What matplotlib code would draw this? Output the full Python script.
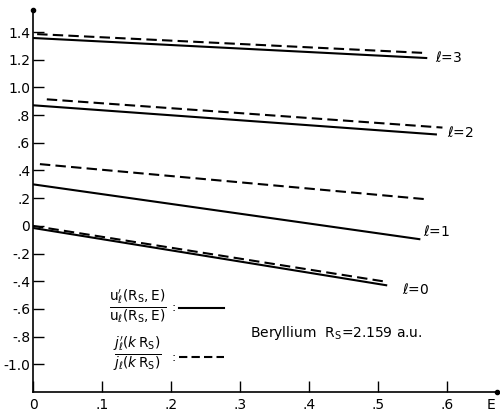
import matplotlib
matplotlib.use("Agg")
import matplotlib.pyplot as plt

# Data (straight lines: endpoints)
ells = ["0", "1", "2", "3"]
solid_x0 = [0.0, 0.0, 0.0, 0.0]
solid_x1 = [0.513, 0.561, 0.585, 0.571]
solid_y0 = [-0.015, 0.30, 0.871, 1.357]
solid_y1 = [-0.43, -0.097, 0.66, 1.212]
dash_x0 = [0.0, 0.01, 0.02, 0.006]
dash_x1 = [0.513, 0.568, 0.593, 0.571]
dash_y0 = [0.0, 0.446, 0.914, 1.385]
dash_y1 = [-0.405, 0.193, 0.71, 1.248]
label_x = [0.535, 0.565, 0.60, 0.582]
label_y = [-0.46, -0.04, 0.675, 1.215]

yticks = [1.4, 1.2, 1.0, 0.8, 0.6, 0.4, 0.2, 0.0, -0.2, -0.4, -0.6, -0.8, -1.0]
ytick_labels = ["1.4", "1.2", "1.0", ".8", ".6", ".4", ".2", "0", "-.2", "-.4", "-.6", "-.8", "-1.0"]
xticks = [0.0, 0.1, 0.2, 0.3, 0.4, 0.5, 0.6]
xtick_labels = ["0", ".1", ".2", ".3", ".4", ".5", ".6"]

plt.rcParams['font.family'] = ['DejaVu Sans']
fig = plt.figure(figsize=(5.0, 4.12), dpi=100)
ax = fig.add_axes([0.066, 0.0485, 0.928, 0.9275])
xmax, ymin, ymax = 0.672, -1.2, 1.56
ax.set_xlim(0, xmax)
ax.set_ylim(ymin, ymax)

for i in range(len(ells)):
    ax.plot([solid_x0[i], solid_x1[i]], [solid_y0[i], solid_y1[i]], color='black', lw=1.5, solid_capstyle='butt')
    ax.plot([dash_x0[i], dash_x1[i]], [dash_y0[i], dash_y1[i]], color='black', lw=1.5, dashes=(5, 2.5))
    ax.text(label_x[i], label_y[i], r"$\ell$=" + ells[i], fontsize=10, va='center', ha='left')

for s in ['top', 'right']:
    ax.spines[s].set_visible(False)
for s in ['left', 'bottom']:
    ax.spines[s].set_linewidth(1.2)
ax.set_yticks(yticks)
ax.set_yticklabels(ytick_labels)
ax.set_xticks(xticks)
ax.set_xticklabels(xtick_labels)
ax.tick_params(axis='y', direction='in', length=8, width=1, labelsize=10, pad=2)
ax.tick_params(axis='x', direction='in', length=8, width=1, labelsize=10, pad=4)
ax.plot([0], [ymax], 'ko', ms=3, clip_on=False)
ax.plot([xmax], [ymin], 'ko', ms=3, clip_on=False)
ax.text(0.664, ymin - 0.045, "E", fontsize=10, ha='center', va='top')

# Legend
ax.text(0.151, -0.58, r"$\frac{\mathrm{u}_\ell'(\mathrm{R_S,E})}{\mathrm{u}_\ell(\mathrm{R_S,E})}$",
        fontsize=14, ha='center', va='center')
ax.text(0.203, -0.59, ":", fontsize=9, ha='center', va='center')
ax.plot([0.212, 0.277], [-0.59, -0.59], color='black', lw=1.5)
ax.text(0.151, -0.92, r"$\frac{j_\ell'(k\,\mathrm{R_S})}{j_\ell(k\,\mathrm{R_S})}$",
        fontsize=14, ha='center', va='center')
ax.text(0.203, -0.95, ":", fontsize=9, ha='center', va='center')
ax.plot([0.212, 0.277], [-0.95, -0.95], color='black', lw=1.5, dashes=(4, 2))

ax.text(0.314, -0.777, r"Beryllium  R$_\mathrm{S}$=2.159 a.u.", fontsize=10, ha='left', va='center')

fig.savefig("out.png", dpi=100)
